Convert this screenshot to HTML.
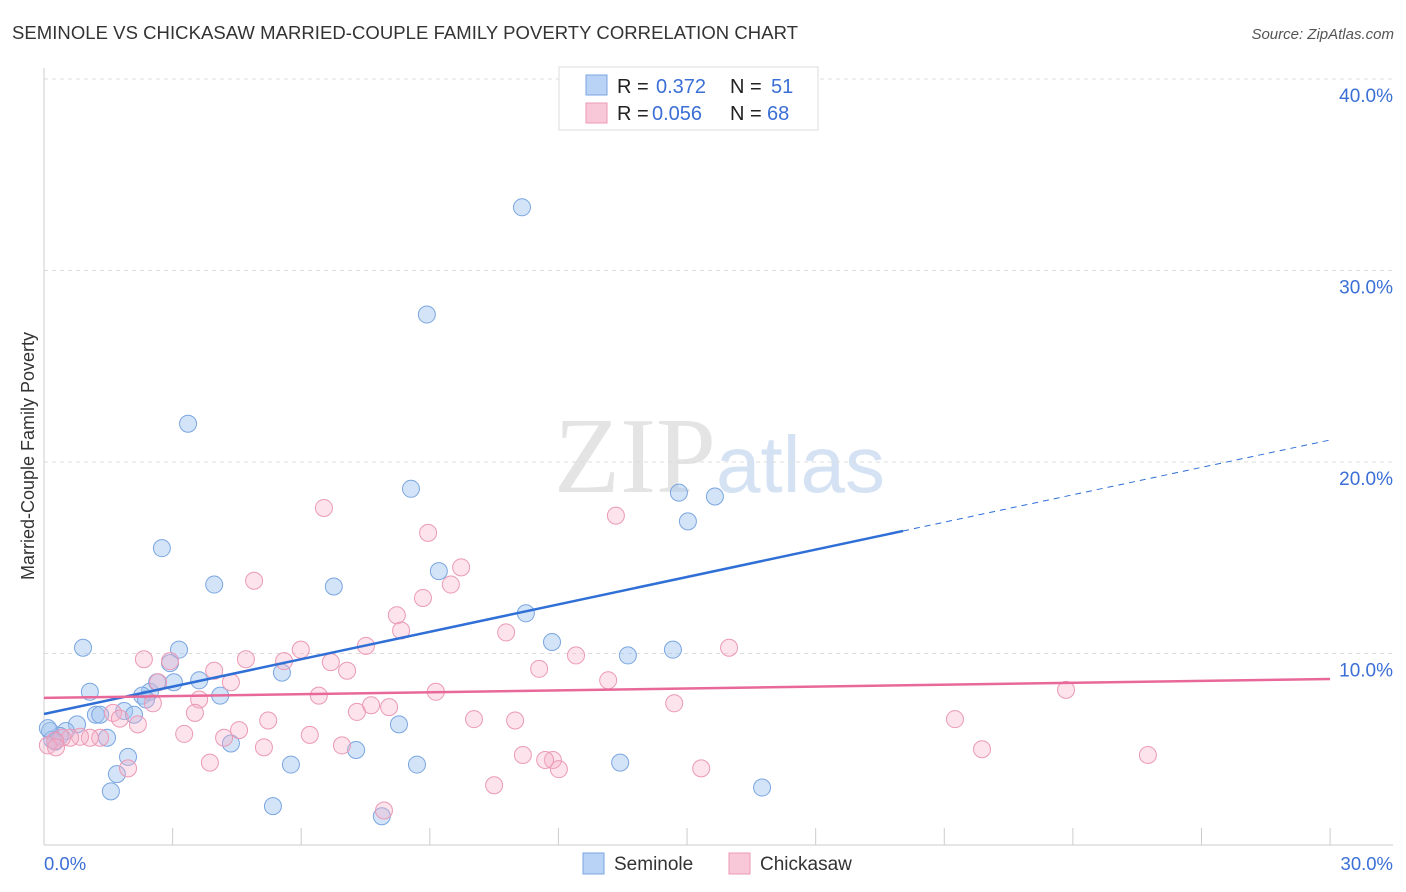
<!DOCTYPE html>
<html><head><meta charset="utf-8"><style>
body{margin:0;background:#fff;font-family:"Liberation Sans",sans-serif}
#c{position:absolute;left:0;top:0}
</style></head><body>
<svg id="c" width="1406" height="892">
<text x="12" y="39" font-size="18.5" fill="#333" textLength="786">SEMINOLE VS CHICKASAW MARRIED-COUPLE FAMILY POVERTY CORRELATION CHART</text>
<text x="1394" y="39" font-size="15" fill="#555" font-style="italic" text-anchor="end">Source: ZipAtlas.com</text>
<text x="716" y="492" font-size="108" fill="#e4e4e4" font-family="Liberation Serif" text-anchor="end">ZIP</text>
<text x="716" y="492" font-size="80" fill="#d4e2f4">atlas</text>
<text transform="translate(34,456) rotate(-90)" font-size="18" fill="#333" text-anchor="middle">Married-Couple Family Poverty</text>
<g id="grid"></g><g id="pts"></g><g id="lines"></g>
<g>
<rect x="559" y="67" width="259" height="63" fill="#fff" stroke="#ddd"/>
<rect x="586" y="75" width="21" height="20" fill="#b8d3f5" stroke="#7aa6e0"/>
<rect x="586" y="103" width="21" height="20" fill="#f9c8d8" stroke="#eb9ab5"/>
<text x="617" y="93" font-size="20" fill="#222">R = </text><text x="656" y="93" font-size="20" fill="#3b6fd6">0.372</text>
<text x="730" y="93" font-size="20" fill="#222">N = </text><text x="771" y="93" font-size="20" fill="#3b6fd6">51</text>
<text x="617" y="120" font-size="20" fill="#222">R = </text><text x="652" y="120" font-size="20" fill="#3b6fd6">0.056</text>
<text x="730" y="120" font-size="20" fill="#222">N = </text><text x="767" y="120" font-size="20" fill="#3b6fd6">68</text>
</g>
<g>
<rect x="583" y="853" width="21" height="21" fill="#b8d3f5" stroke="#7aa6e0"/>
<text x="614" y="870" font-size="19" fill="#333">Seminole</text>
<rect x="729" y="853" width="21" height="21" fill="#f9c8d8" stroke="#eb9ab5"/>
<text x="760" y="870" font-size="19" fill="#333">Chickasaw</text>
</g>
<text x="44" y="870" font-size="18.5" fill="#3b6fd6">0.0%</text>
<text x="1393" y="870" font-size="18.5" fill="#3b6fd6" text-anchor="end">30.0%</text>
</svg>
<script>
const yTicks=[10,20,30,40];
const yTickLabels=["10.0%","20.0%","30.0%","40.0%"];
const xTicks=[0,3,6,9,12,15,18,21,24,27,30];
const semX=[11.15,8.93,3.36,8.56,14.81,15.65,15.02,2.75,3.97,6.76,9.21,11.24,11.85,13.62,14.67,0.91,3.15,2.94,1.07,2.47,2.64,3.03,3.62,4.11,2.29,2.38,5.55,1.87,1.21,1.31,2.10,0.77,0.51,0.37,0.14,0.19,0.09,1.47,1.96,4.36,7.28,8.28,1.70,1.56,5.76,8.70,13.44,16.75,5.34,7.88,0.26];
const semY=[33.3,27.7,22.0,18.6,18.4,18.2,16.9,15.5,13.6,13.5,14.3,12.1,10.6,9.9,10.2,10.3,10.2,9.5,8.0,8.0,8.5,8.5,8.6,7.8,7.8,7.6,9.0,7.0,6.8,6.8,6.8,6.3,5.95,5.7,5.95,5.5,6.1,5.6,4.6,5.3,4.96,6.3,3.7,2.8,4.2,4.2,4.3,3.0,2.03,1.5,5.4];
const chiX=[6.53,13.34,8.96,9.73,4.90,9.49,8.84,8.23,8.33,10.78,7.51,15.98,5.99,2.33,2.94,4.71,12.41,5.60,6.69,7.07,11.55,3.97,4.36,13.16,23.84,2.66,6.41,9.14,3.62,2.54,14.70,1.61,3.52,1.77,2.19,7.30,7.63,8.05,10.03,10.99,21.25,5.23,4.55,6.20,3.27,4.20,1.31,1.07,0.84,0.61,0.42,0.26,0.09,6.95,5.13,21.88,11.17,11.87,11.69,25.75,3.87,1.96,12.01,15.33,10.50,7.93,0.28];
const chiY=[17.6,17.2,16.3,14.5,13.8,13.6,12.9,12.0,11.2,11.1,10.4,10.3,10.2,9.7,9.6,9.7,9.9,9.6,9.55,9.1,9.2,9.1,8.5,8.6,8.1,8.5,7.8,8.0,7.6,7.4,7.4,6.9,6.9,6.6,6.3,6.95,7.3,7.2,6.57,6.5,6.57,6.5,6.0,5.75,5.8,5.6,5.6,5.6,5.65,5.6,5.6,5.45,5.2,5.2,5.1,5.0,4.7,4.44,4.44,4.7,4.3,4.0,3.96,4.0,3.12,1.8,5.1];
const semLine=[6.84,0.477,20.04]; // intercept, slope, solid end
const chiLine=[7.68,0.033];
const X=v=>44+v*42.87, Y=v=>845-v*19.15;
const NS="http://www.w3.org/2000/svg";
function mk(p,t,a){const e=document.createElementNS(NS,t);for(const k in a)e.setAttribute(k,a[k]);p.appendChild(e);return e;}
const g=document.getElementById('grid');
yTicks.forEach((t,i)=>{
 const l=mk(g,'line',{x1:44,x2:1393,y1:Y(t),y2:Y(t),stroke:'#ddd','stroke-dasharray':'4,4'});
 
 
 const tx=mk(g,'text',{x:1393,y:Y(t)+23,'font-size':19,fill:'#3b6fd6','text-anchor':'end'});
 tx.textContent=yTickLabels[i];
 
 
});
mk(g,'line',{x1:44,x2:44,y1:68,y2:845,stroke:'#ccc'});
mk(g,'line',{x1:44,x2:1393,y1:845,y2:845,stroke:'#ccc'});
xTicks.forEach(t=>{const l=mk(g,'line',{x1:X(t),x2:X(t),y1:828,y2:845,stroke:'#ccc'});
 
 });
const p=document.getElementById('pts');
semX.forEach((x,i)=>{const c=mk(p,'circle',{cx:X(x),cy:Y(semY[i]),r:8.5,fill:'rgba(160,195,240,0.45)',stroke:'#7aa6e0','stroke-width':1});
 
 });
chiX.forEach((x,i)=>{const c=mk(p,'circle',{cx:X(x),cy:Y(chiY[i]),r:8.5,fill:'rgba(246,175,200,0.35)',stroke:'#eb9ab5','stroke-width':1});
 
 });
const L=document.getElementById('lines');
const s1=mk(L,'line',{x1:X(0),y1:Y(semLine[0]),x2:X(semLine[2]),y2:Y(semLine[0]+semLine[1]*semLine[2]),stroke:'#2f6fd6','stroke-width':2.5});


const s2=mk(L,'line',{x1:X(semLine[2]),y1:Y(semLine[0]+semLine[1]*semLine[2]),x2:X(30),y2:Y(semLine[0]+semLine[1]*30),stroke:'#2f6fd6','stroke-width':1,'stroke-dasharray':'6,5'});


const c1=mk(L,'line',{x1:X(0),y1:Y(chiLine[0]),x2:X(30),y2:Y(chiLine[0]+chiLine[1]*30),stroke:'#e8689a','stroke-width':2.5});


</script>
</body></html>
